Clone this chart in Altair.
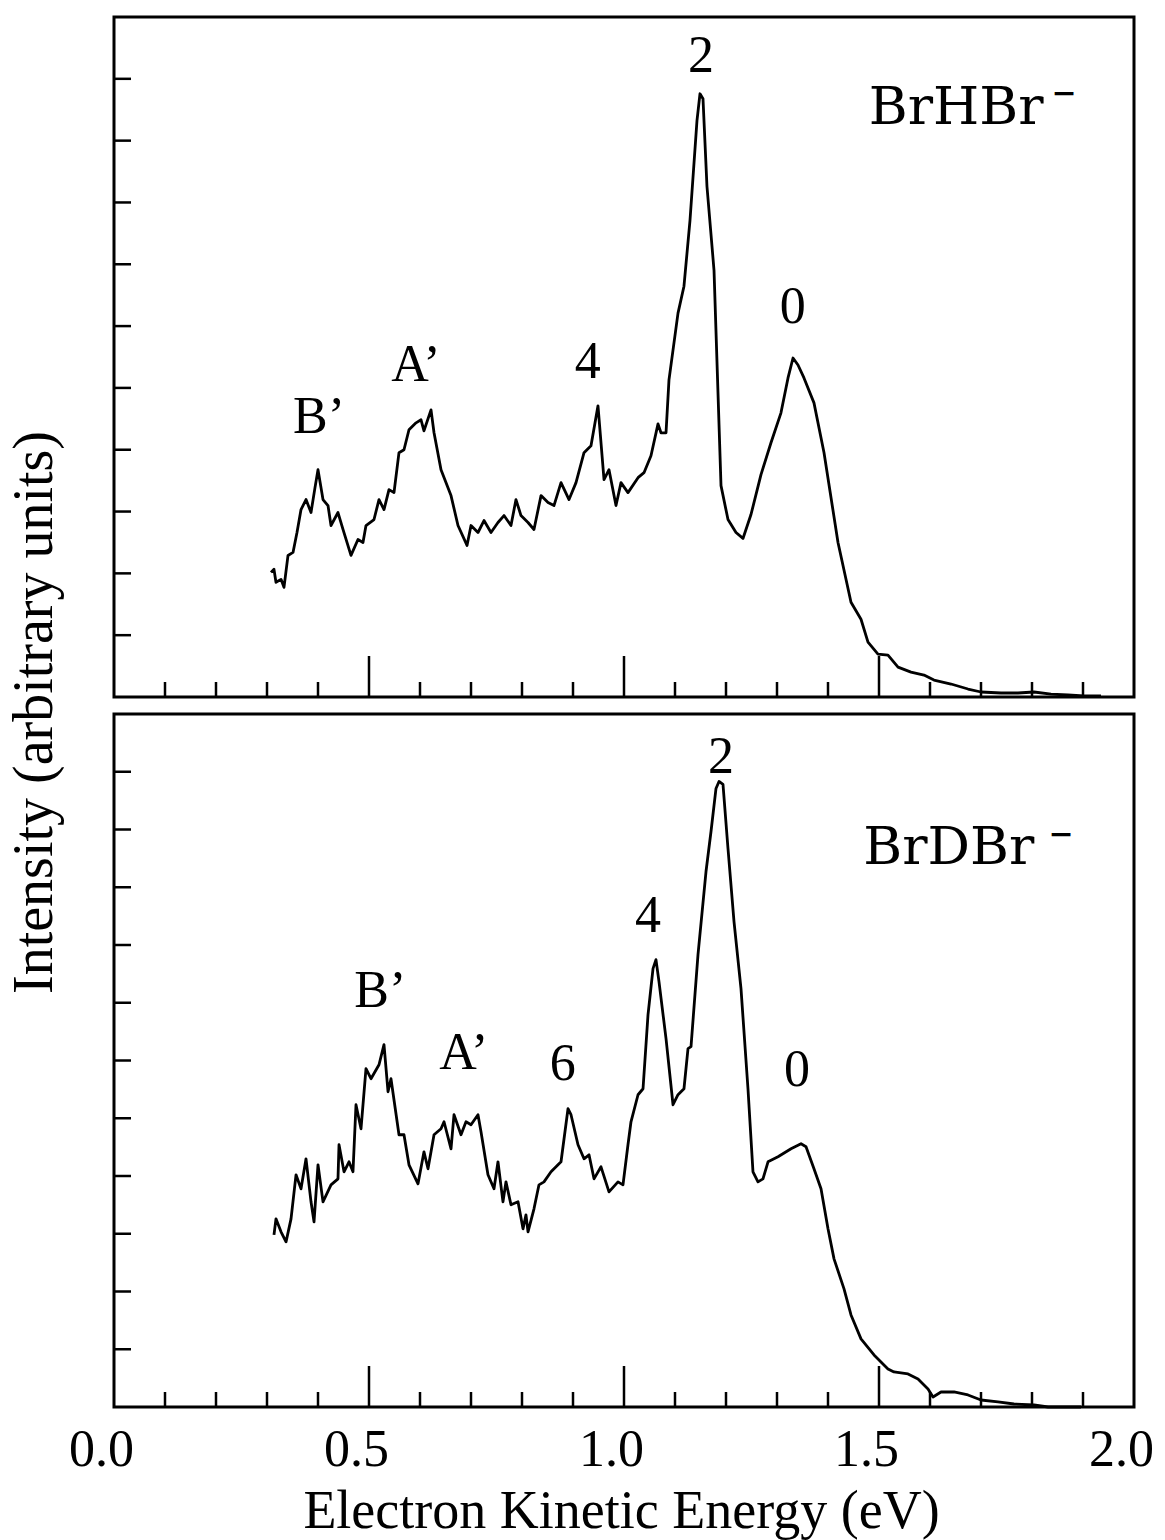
import altair as alt
import pandas as pd

# ---- BrHBr- photoelectron spectrum (upper panel) ----
hbr_energy = [
    0.3078, 0.3137, 0.3176, 0.3275, 0.3333, 0.3412, 0.3510, 0.3588, 0.3667, 0.3765,
    0.3863, 0.3941, 0.4000, 0.4098, 0.4196, 0.4255, 0.4392, 0.4490, 0.4647, 0.4784,
    0.4882, 0.4941, 0.5098, 0.5196, 0.5294, 0.5392, 0.5490, 0.5588, 0.5686, 0.5784,
    0.5922, 0.6020, 0.6078, 0.6216, 0.6275, 0.6412, 0.6608, 0.6745, 0.6922, 0.7000,
    0.7137, 0.7255, 0.7392, 0.7529, 0.7647, 0.7784, 0.7882, 0.7980, 0.8118, 0.8235,
    0.8373, 0.8510, 0.8627, 0.8765, 0.8922, 0.9059, 0.9216, 0.9353, 0.9490, 0.9608,
    0.9706, 0.9843, 0.9941, 1.0078, 1.0275, 1.0392, 1.0529, 1.0667, 1.0725, 1.0824,
    1.0882, 1.1059, 1.1176, 1.1294, 1.1431, 1.1490, 1.1549, 1.1627, 1.1765, 1.1902,
    1.2039, 1.2196, 1.2333, 1.2490, 1.2686, 1.2882, 1.3078, 1.3216, 1.3314, 1.3412,
    1.3529, 1.3725, 1.3922, 1.4196, 1.4451, 1.4647, 1.4784, 1.4980, 1.5176, 1.5373,
    1.5627, 1.5882, 1.6078, 1.6412, 1.6745, 1.7000, 1.7392, 1.7725, 1.8039, 1.8373,
    1.8706, 1.9020, 1.9353,
]
hbr_intensity = [
    2.016, 2.065, 1.855, 1.903, 1.774, 2.290, 2.339, 2.661, 3.032, 3.194,
    2.984, 3.387, 3.677, 3.194, 3.097, 2.774, 2.984, 2.710, 2.290, 2.548,
    2.500, 2.774, 2.871, 3.194, 3.032, 3.355, 3.306, 3.952, 4.000, 4.323,
    4.435, 4.484, 4.306, 4.645, 4.274, 3.677, 3.258, 2.774, 2.452, 2.774,
    2.661, 2.855, 2.661, 2.823, 2.935, 2.774, 3.194, 2.935, 2.823, 2.710,
    3.258, 3.145, 3.097, 3.468, 3.194, 3.468, 3.952, 4.065, 4.710, 3.516,
    3.677, 3.097, 3.468, 3.306, 3.548, 3.629, 3.903, 4.419, 4.274, 4.274,
    5.129, 6.210, 6.645, 7.710, 9.323, 9.758, 9.677, 8.258, 6.903, 3.419,
    2.871, 2.661, 2.565, 2.952, 3.597, 4.113, 4.597, 5.161, 5.484, 5.371,
    5.161, 4.758, 3.952, 2.500, 1.532, 1.258, 0.887, 0.694, 0.677, 0.484,
    0.403, 0.355, 0.274, 0.210, 0.129, 0.081, 0.065, 0.065, 0.081, 0.048,
    0.032, 0.016, 0.016,
]

# ---- BrDBr- photoelectron spectrum (lower panel) ----
dbr_energy = [
    0.3137, 0.3176, 0.3275, 0.3373, 0.3471, 0.3569, 0.3667, 0.3765, 0.3863, 0.3922,
    0.4000, 0.4098, 0.4255, 0.4392, 0.4412, 0.4510, 0.4608, 0.4686, 0.4745, 0.4843,
    0.4941, 0.5039, 0.5196, 0.5294, 0.5373, 0.5431, 0.5588, 0.5686, 0.5784, 0.5961,
    0.6078, 0.6157, 0.6275, 0.6412, 0.6471, 0.6608, 0.6667, 0.6804, 0.6902, 0.7000,
    0.7137, 0.7196, 0.7333, 0.7451, 0.7529, 0.7627, 0.7686, 0.7784, 0.7922, 0.8020,
    0.8078, 0.8118, 0.8235, 0.8333, 0.8431, 0.8569, 0.8765, 0.8902, 0.8961, 0.9098,
    0.9216, 0.9314, 0.9412, 0.9549, 0.9706, 0.9882, 0.9980, 1.0078, 1.0137, 1.0275,
    1.0373, 1.0471, 1.0569, 1.0627, 1.0686, 1.0824, 1.0961, 1.1059, 1.1176, 1.1255,
    1.1314, 1.1451, 1.1608, 1.1706, 1.1804, 1.1863, 1.1941, 1.2039, 1.2157, 1.2294,
    1.2431, 1.2529, 1.2627, 1.2725, 1.2824, 1.3020, 1.3275, 1.3471, 1.3569, 1.3725,
    1.3863, 1.4000, 1.4118, 1.4314, 1.4451, 1.4647, 1.4902, 1.5176, 1.5294, 1.5569,
    1.5765, 1.5961, 1.6059, 1.6216, 1.6471, 1.6745, 1.7000, 1.7333, 1.7647, 1.8039,
    1.8314, 1.8627, 1.8961,
]
dbr_intensity = [
    2.981, 3.258, 3.033, 2.860, 3.258, 4.021, 3.778, 4.298, 3.553, 3.206,
    4.194, 3.553, 3.847, 3.951, 4.541, 4.073, 4.246, 4.073, 5.234, 4.818,
    5.858, 5.685, 5.927, 6.274, 5.459, 5.685, 4.714, 4.714, 4.194, 3.865,
    4.419, 4.125, 4.714, 4.818, 4.939, 4.471, 5.061, 4.714, 4.939, 4.887,
    5.061, 4.766, 4.021, 3.778, 4.246, 3.553, 3.899, 3.501, 3.553, 3.085,
    3.328, 3.033, 3.432, 3.847, 3.899, 4.073, 4.246, 5.165, 5.061, 4.541,
    4.298, 4.367, 3.951, 4.159, 3.726, 3.899, 3.847, 4.541, 4.939, 5.407,
    5.511, 6.794, 7.591, 7.747, 7.366, 6.378, 5.234, 5.407, 5.511, 6.205,
    6.239, 7.834, 9.272, 9.965, 10.711, 10.832, 10.780, 9.671, 8.406, 7.244,
    5.511, 4.073, 3.899, 3.951, 4.246, 4.333, 4.471, 4.558, 4.506, 4.125,
    3.778, 3.085, 2.565, 2.045, 1.594, 1.179, 0.901, 0.659, 0.607, 0.572,
    0.485, 0.312, 0.173, 0.260, 0.260, 0.208, 0.121, 0.087, 0.052, 0.035,
    0.000, 0.000, 0.000,
]

# ---- peak assignments ----
hbr_peak_text = ["B\u2019", "A\u2019", "4", "2", "0"]
hbr_peak_energy = [0.402, 0.592, 0.929, 1.151, 1.331]
hbr_peak_height = [4.27, 5.11, 5.16, 10.11, 6.05]

dbr_peak_text = ["B\u2019", "A\u2019", "6", "4", "2", "0"]
dbr_peak_energy = [0.522, 0.686, 0.880, 1.047, 1.190, 1.339]
dbr_peak_height = [6.93, 5.86, 5.67, 8.23, 10.97, 5.55]

# ---- species names (anion charge drawn as a raised minus) ----
hbr_species = ["BrHBr", "\u2212"]
hbr_species_energy = [1.480, 1.863]
hbr_species_height = [9.27, 9.76]

dbr_species = ["BrDBr", "\u2212"]
dbr_species_energy = [1.469, 1.857]
dbr_species_height = [9.41, 9.91]

# ---- axis ticks ----
energy_minor_ticks = [0.1, 0.2, 0.3, 0.4, 0.6, 0.7, 0.8, 0.9,
                      1.1, 1.2, 1.3, 1.4, 1.6, 1.7, 1.8, 1.9]
energy_major_ticks = [0.5, 1.0, 1.5]
energy_tick_labels = [0.0, 0.5, 1.0, 1.5, 2.0]
hbr_intensity_ticks = [1, 2, 3, 4, 5, 6, 7, 8, 9, 10]
dbr_intensity_ticks = [1, 2, 3, 4, 5, 6, 7, 8, 9, 10, 11]

SERIF = "Liberation Serif"
WIDE_SERIF = "DejaVu Serif"
INK = "black"
PANEL_W = 1020


def panel(energy, intensity, peak_text, peak_energy, peak_height,
          species, species_energy, species_height,
          y_ticks, y_max, height, x_axis, y_axis):
    xs = alt.Scale(domain=[0, 2], nice=False, zero=False)
    ys = alt.Scale(domain=[0, y_max], nice=False, zero=False)

    def X():
        return alt.X("energy:Q", scale=xs, axis=x_axis)

    def Y():
        return alt.Y("intensity:Q", scale=ys, axis=y_axis)

    spectrum = alt.Chart(
        pd.DataFrame({"energy": energy, "intensity": intensity})
    ).mark_line(color=INK, strokeWidth=2.8, interpolate="linear",
                strokeJoin="round").encode(x=X(), y=Y())

    peaks = alt.Chart(
        pd.DataFrame({"energy": peak_energy, "intensity": peak_height, "label": peak_text})
    ).mark_text(font=SERIF, fontSize=52, color=INK, align="center",
                baseline="alphabetic").encode(x=X(), y=Y(), text="label:N")

    name = alt.Chart(
        pd.DataFrame({"energy": species_energy[:1], "intensity": species_height[:1],
                      "label": species[:1]})
    ).mark_text(font=WIDE_SERIF, fontSize=53, color=INK, align="left",
                baseline="alphabetic").encode(x=X(), y=Y(), text="label:N")

    charge = alt.Chart(
        pd.DataFrame({"energy": species_energy[1:], "intensity": species_height[1:],
                      "label": species[1:]})
    ).mark_text(font=WIDE_SERIF, fontSize=30, fontWeight="bold", color=INK,
                align="center", baseline="middle").encode(x=X(), y=Y(), text="label:N")

    minor = alt.Chart(pd.DataFrame({"energy": energy_minor_ticks})).mark_rule(
        color=INK, strokeWidth=2.5
    ).encode(x=X(), y=alt.value(height), y2=alt.value(height - 15))

    major = alt.Chart(pd.DataFrame({"energy": energy_major_ticks})).mark_rule(
        color=INK, strokeWidth=2.5
    ).encode(x=X(), y=alt.value(height), y2=alt.value(height - 41))

    left = alt.Chart(pd.DataFrame({"intensity": y_ticks})).mark_rule(
        color=INK, strokeWidth=2.5
    ).encode(y=Y(), x=alt.value(0), x2=alt.value(17))

    return alt.layer(spectrum, peaks, name, charge, minor, major, left).properties(
        width=PANEL_W, height=height
    )


top_y_axis = alt.Axis(
    title="Intensity (arbitrary units)", labels=False, ticks=False, domain=False,
    grid=False, titleFont=SERIF, titleFontSize=56, titleFontWeight="normal",
    titleColor=INK, titleAngle=270, titleX=-63, titleY=695,
    titleBaseline="alphabetic", titleAlign="center",
)

bottom_x_axis = alt.Axis(
    values=energy_tick_labels, format=".1f", labelFont=SERIF, labelFontSize=52,
    labelColor=INK, labelFlush=False, labelOffset=-13, labelPadding=58,
    labelBaseline="alphabetic", ticks=False, tickSize=0, domain=False, grid=False,
    title="Electron Kinetic Energy (eV)", titleFont=SERIF, titleFontSize=54,
    titleFontWeight="normal", titleColor=INK, titleX=507, titleY=120,
    titleBaseline="alphabetic", titleAlign="center",
)

upper = panel(hbr_energy, hbr_intensity, hbr_peak_text, hbr_peak_energy, hbr_peak_height,
              hbr_species, hbr_species_energy, hbr_species_height,
              hbr_intensity_ticks, 11, 680, None, top_y_axis)

lower = panel(dbr_energy, dbr_intensity, dbr_peak_text, dbr_peak_energy, dbr_peak_height,
              dbr_species, dbr_species_energy, dbr_species_height,
              dbr_intensity_ticks, 12, 693, bottom_x_axis, None)

chart = alt.vconcat(upper, lower, spacing=17, bounds="flush").properties(
    padding={"left": 4, "top": 15, "right": 5, "bottom": 0},
    background="white",
).configure_view(stroke=INK, strokeWidth=3)

chart.save("out.html", embed_options={"renderer": "svg", "actions": False})
